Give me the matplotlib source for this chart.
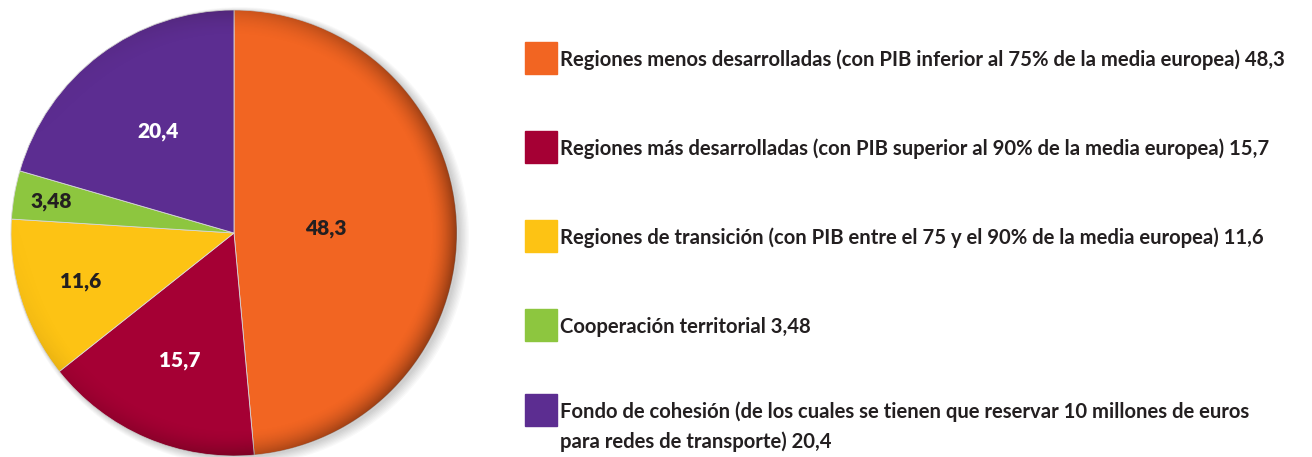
import numpy as np
import matplotlib
matplotlib.use("Agg")
import matplotlib.pyplot as plt
from matplotlib.patches import Circle, Rectangle

values = [48.3, 15.7, 11.6, 3.48, 20.4]
value_labels = ["48,3", "15,7", "11,6", "3,48", "20,4"]
colors = ["#F26522", "#A50034", "#FDC314", "#8DC63F", "#5C2D91"]
label_colors = ["#231F20", "white", "#231F20", "#231F20", "white"]
legend_texts = [
    "Regiones menos desarrolladas (con PIB inferior al 75% de la media europea) 48,3",
    "Regiones más desarrolladas (con PIB superior al 90% de la media europea) 15,7",
    "Regiones de transición (con PIB entre el 75 y el 90% de la media europea) 11,6",
    "Cooperación territorial 3,48",
    "Fondo de cohesión (de los cuales se tienen que reservar 10 millones de euros\npara redes de transporte) 20,4",
]

FONT = "Lato"
W, H = 1312, 457
fig = plt.figure(figsize=(W / 100, H / 100), dpi=100)
fig.patch.set_facecolor("white")

cx, cy, r = 234, 233, 223
pad = 12
ax = fig.add_axes([(cx - r - pad) / W, (H - cy - r - pad) / H, (2 * r + 2 * pad) / W, (2 * r + 2 * pad) / H])
ax.axis("off")

# soft drop shadow
for k in range(8):
    ax.add_patch(Circle((0.012 + 0.002 * k, -0.008 - 0.001 * k), 1 + 0.004 * k,
                        color="black", alpha=0.022, zorder=0, lw=0))

wedges, texts = ax.pie(values, colors=colors, startangle=90, counterclock=False,
                       radius=1, labels=None,
                       wedgeprops=dict(edgecolor="#d8d8d8", linewidth=0.6))
for w in wedges:
    w.set_zorder(1)

# rim shading (3D look)
n = 600
xs = np.linspace(-1, 1, n)
X, Y = np.meshgrid(xs, xs)
R = np.sqrt(X ** 2 + Y ** 2)
ang = np.arctan2(Y, X)
dirf = 0.5 + 0.5 * np.cos(ang - np.deg2rad(-15))
edge = np.clip((R - 0.88) / 0.12, 0, 1) ** 1.8
alpha = np.clip(edge * dirf * 0.45, 0, 1)
img = np.zeros((n, n, 4))
img[..., 0] = 0.12
img[..., 1] = 0.03
img[..., 3] = alpha
im = ax.imshow(img, extent=(-1, 1, -1, 1), origin="lower", zorder=2, interpolation="bilinear")
clip = Circle((0, 0), 1, transform=ax.transData)
im.set_clip_path(clip)

lim = 1 + pad / r
ax.set_xlim(-lim, lim)
ax.set_ylim(-lim, lim)
ax.set_aspect("equal")

# value labels inside wedges (positions via wedge angles)
label_r = [0.41, 0.62, 0.72, 0.83, 0.57]
for w, lab, lc, lr in zip(wedges, value_labels, label_colors, label_r):
    a = np.deg2rad((w.theta1 + w.theta2) / 2)
    ax.text(lr * np.cos(a), lr * np.sin(a), lab, ha="center", va="center",
            fontsize=15, fontweight="heavy", family=FONT, color=lc, zorder=3)

# legend
sq = 32
ys = [58, 147, 236, 325, 410]
FS = 14.6
for (yc, col, txt) in zip(ys, colors, legend_texts):
    fig.patches.append(Rectangle((525 / W, (H - yc - sq / 2) / H), sq / W, sq / H,
                                 transform=fig.transFigure, color=col, figure=fig))
    for i, line in enumerate(txt.split("\n")):
        fig.text(560 / W, (H - yc - 2 - 30 * i) / H, line, ha="left", va="center",
                 fontsize=FS, fontweight="bold", family=FONT, color="#231F20")

fig.savefig("out.png", dpi=100, facecolor="white")
